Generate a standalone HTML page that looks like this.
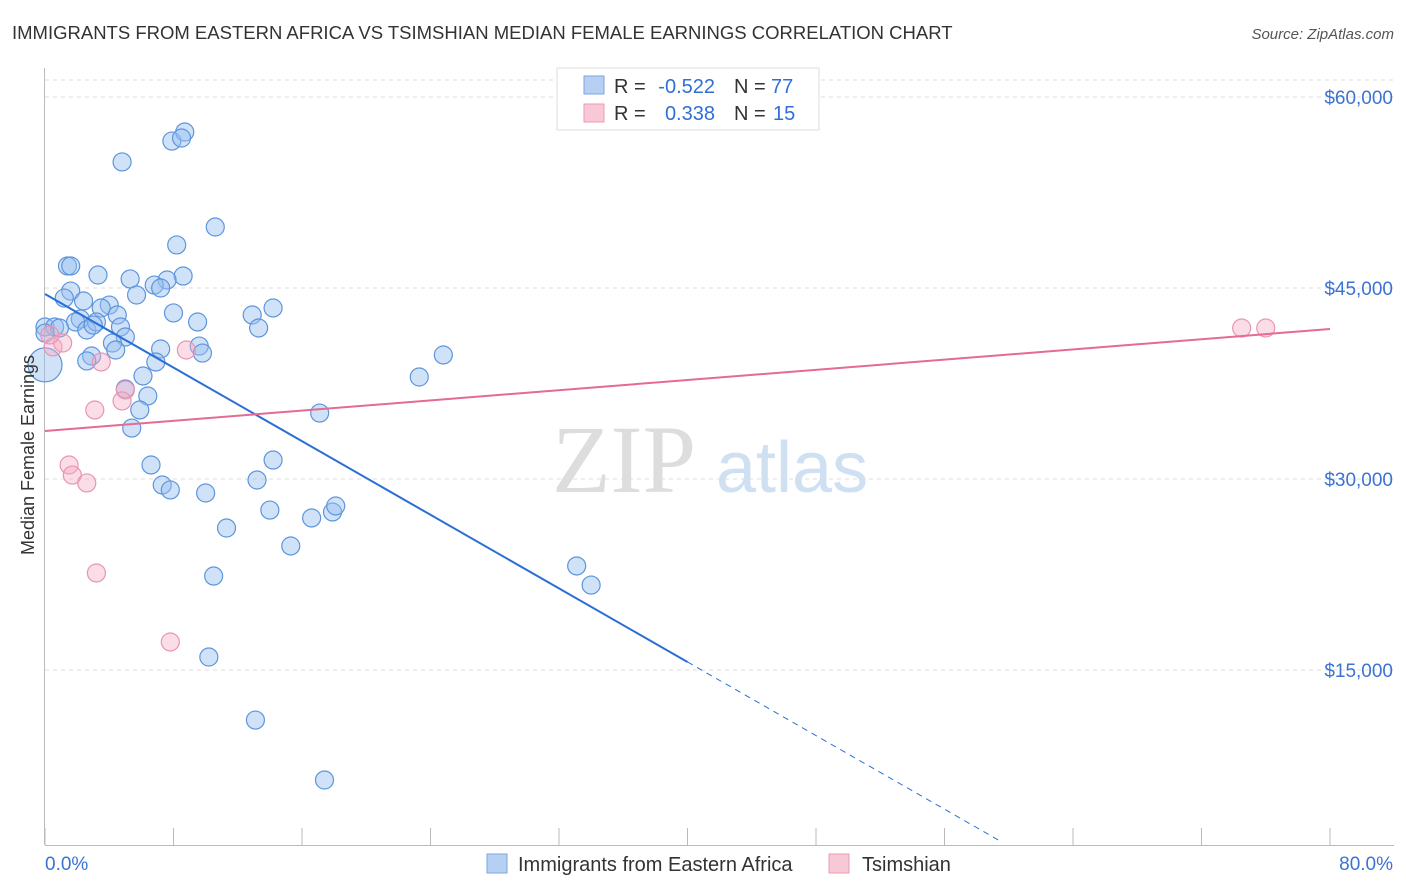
<!DOCTYPE html>
<html><head><meta charset="utf-8">
<style>
body{margin:0;background:#fff;font-family:"Liberation Sans",sans-serif;}
svg{display:block}
</style></head>
<body>
<svg id="chart" width="1406" height="892">
  <text x="12" y="39" font-size="18.5" fill="#333">IMMIGRANTS FROM EASTERN AFRICA VS TSIMSHIAN MEDIAN FEMALE EARNINGS CORRELATION CHART</text>
  <text x="1394" y="39" font-size="15" fill="#555" font-style="italic" text-anchor="end">Source: ZipAtlas.com</text>
  <text x="552" y="492" font-size="96" fill="#ddd" font-family="Liberation Serif,serif">ZIP</text>
  <text x="716" y="492" font-size="72" fill="#cfe0f3">atlas</text>
  <g id="grid"></g>
  <g id="axes"></g>
  <g id="marks"></g>
  <text transform="translate(34,455) rotate(-90)" font-size="18" fill="#333" text-anchor="middle">Median Female Earnings</text>
  <g>
    <rect x="557" y="68" width="262" height="62" fill="#fff" stroke="#ddd"/>
    <rect x="584" y="76" width="20" height="18" fill="#b5d0f3" stroke="#7aa6e0"/>
    <rect x="584" y="104" width="20" height="18" fill="#f8c8d6" stroke="#eb9bb3"/>
    <text x="614" y="93" font-size="20" fill="#333">R =</text>
    <text x="715" y="93" font-size="20" fill="#2f6fd6" text-anchor="end">-0.522</text>
    <text x="734" y="93" font-size="20" fill="#333">N =</text>
    <text x="771" y="93" font-size="20" fill="#2f6fd6">77</text>
    <text x="614" y="120" font-size="20" fill="#333">R =</text>
    <text x="715" y="120" font-size="20" fill="#2f6fd6" text-anchor="end">0.338</text>
    <text x="734" y="120" font-size="20" fill="#333">N =</text>
    <text x="773" y="120" font-size="20" fill="#2f6fd6">15</text>
  </g>
  <g>
    <rect x="487" y="854" width="20" height="19" fill="#b5d0f3" stroke="#7aa6e0"/>
    <text x="518" y="871" font-size="20" fill="#333">Immigrants from Eastern Africa</text>
    <rect x="829" y="854" width="20" height="19" fill="#f8c8d6" stroke="#eb9bb3"/>
    <text x="862" y="871" font-size="20" fill="#333">Tsimshian</text>
  </g>
</svg>
<script>
const blueX=[4.8,7.9,8.7,8.5,10.6,8.2,1.4,1.6,3.3,5.3,8.6,7.6,6.8,7.2,5.7,1.6,1.2,2.4,4.0,3.5,4.5,2.2,1.9,8.0,9.5,12.9,14.2,13.3,0,0.6,0.9,2.6,3.2,4.7,5.0,4.2,4.4,7.2,9.6,9.8,2.9,2.6,6.9,6.1,5.0,6.4,5.9,5.4,6.6,7.3,7.8,10.0,11.3,13.2,14.0,14.2,17.1,23.3,24.8,16.6,17.9,18.1,15.3,10.5,10.2,13.1,17.4,33.1,34.0,0,3.0];
const blueY=[54900,56540,57250,56780,49790,48380,46730,46730,46020,45710,45940,45630,45230,45000,44450,44760,44210,43980,43660,43430,42880,42560,42330,43040,42330,42880,43430,41860,41940,41940,41860,41700,42330,41940,41150,40680,40130,40210,40440,39890,39660,39270,39190,38090,37070,36520,35420,34000,31100,29530,29140,28900,26150,29920,27560,31490,35180,38010,39740,26940,27410,27880,24740,22380,16020,11070,6360,23170,21670,41460,42090];
const pinkX=[0.5,1.1,3.5,5.0,4.8,3.1,1.5,1.7,2.6,3.2,7.8,8.8,74.5,76.0,0.3];
const pinkY=[40370,40680,39190,36990,36130,35420,31100,30310,29690,22620,17200,40130,41860,41860,41310];
const bigX=[0], bigY=[38960];
const yTicks=[15000,30000,45000,60000];
const yTickLabels=["$15,000","$30,000","$45,000","$60,000"];
const blueTrend=[44529,-722.5];
const pinkTrend=[33770,100.1];
const xs=p=>45+p*16.0625;
const ys=v=>861-v/78.534;
const NS="http://www.w3.org/2000/svg";
function mk(tag,attrs,parent){const e=document.createElementNS(NS,tag);for(const k in attrs)e.setAttribute(k,attrs[k]);parent.appendChild(e);return e;}
const grid=document.getElementById('grid'),axes=document.getElementById('axes'),marks=document.getElementById('marks');
yTicks.forEach((t,i)=>{
  const g=mk('line',{x1:45,x2:1394,y1:ys(t),y2:ys(t),stroke:'#ddd','stroke-dasharray':'4,4'},grid);
  
  
  const l=mk('text',{x:1393,y:ys(t)+7,'font-size':19,fill:'#3b73d1','text-anchor':'end'},axes);
  l.textContent=yTickLabels[i];
  
  
});
mk('line',{x1:45,x2:1394,y1:ys(60000)-17,y2:ys(60000)-17,stroke:'#ddd','stroke-dasharray':'4,4'},grid);
mk('line',{x1:44.5,x2:44.5,y1:68,y2:845,stroke:'#bbb'},axes);
mk('line',{x1:45,x2:1394,y1:845.5,y2:845.5,stroke:'#bbb'},axes);
for(let p=0;p<=80;p+=8){const t=mk('line',{x1:xs(p),x2:xs(p),y1:828,y2:845,stroke:'#bbb'},axes);
  
  }
const x0=mk('text',{x:45,y:870,'font-size':19,fill:'#3b73d1'},axes);x0.textContent='0.0%';


const x1=mk('text',{x:1393,y:870,'font-size':19,fill:'#3b73d1','text-anchor':'end'},axes);x1.textContent='80.0%';


function dots(X,Y,fill,stroke,r,name){X.forEach((x,i)=>{const c=mk('circle',{cx:xs(x),cy:ys(Y[i]),r:r,fill:fill,stroke:stroke,'stroke-width':1.2},marks);
  
  });}
dots(blueX,blueY,'rgba(150,190,240,0.45)','#5d95dc',9,'immigrants-point');
dots(bigX,bigY,'rgba(150,190,240,0.45)','#5d95dc',17,'immigrants-point');
dots(pinkX,pinkY,'rgba(245,170,195,0.4)','#e896b0',9,'tsimshian-point');
const bv=p=>blueTrend[0]+blueTrend[1]*p;
const l1=mk('line',{x1:xs(0),y1:ys(bv(0)),x2:xs(40),y2:ys(bv(40)),stroke:'#2a6fd6','stroke-width':2},marks);


const l2=mk('line',{x1:xs(40),y1:ys(bv(40)),x2:xs(59.5),y2:ys(bv(59.5)),stroke:'#2a6fd6','stroke-width':1,'stroke-dasharray':'6,5'},marks);


const pv=p=>pinkTrend[0]+pinkTrend[1]*p;
const l3=mk('line',{x1:xs(0),y1:ys(pv(0)),x2:xs(80),y2:ys(pv(80)),stroke:'#e56a94','stroke-width':2},marks);


</script>
</body></html>
